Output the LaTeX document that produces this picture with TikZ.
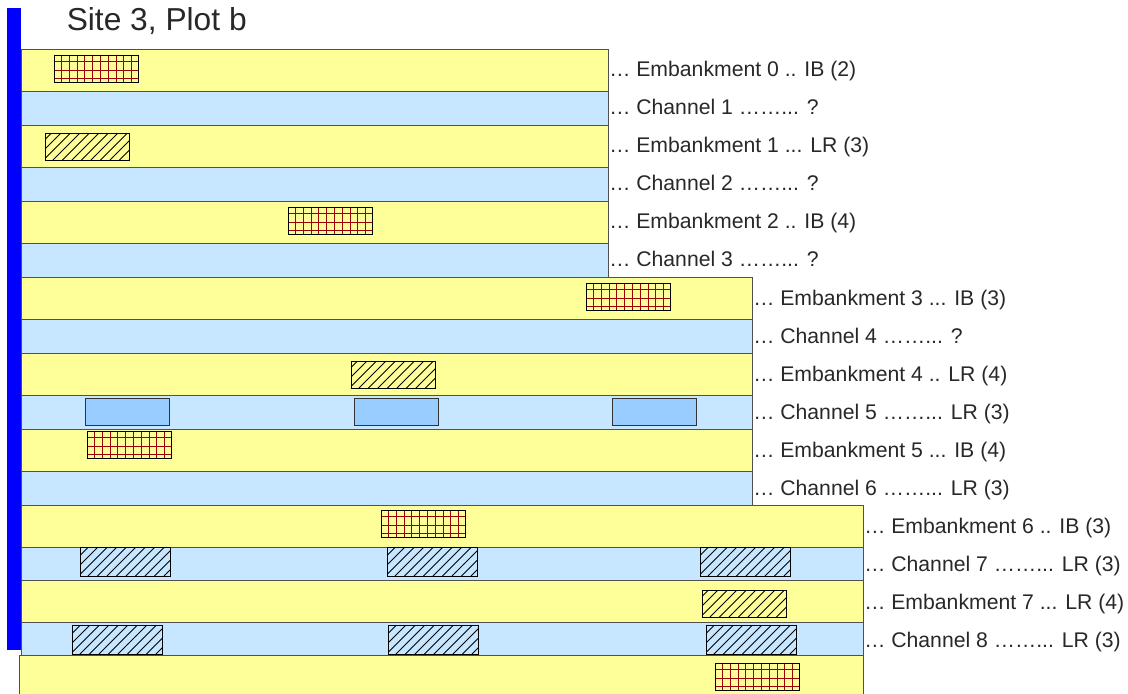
\documentclass[tikz,border=0pt]{standalone}
\usepackage{fontspec}
\setmainfont{Liberation Sans}

\definecolor{bankyellow}{RGB}{255,255,153}
\definecolor{chanblue}{RGB}{198,231,255}
\definecolor{poolblue}{RGB}{153,204,255}
\definecolor{gridred}{RGB}{160,0,0}
\definecolor{edgegray}{RGB}{80,80,80}
\definecolor{labgray}{RGB}{40,40,40}

\tikzset{
  pics/gridbox/.style={code={
    \fill[bankyellow] (0,0) rectangle (84,27);
    \foreach \gx in {7.5,15.3,...,80} \draw[gridred,line width=0.75pt] (\gx,0) -- (\gx,27);
    \foreach \gy in {6.7,15,23.3} \draw[gridred,line width=0.75pt] (0,\gy) -- (84,\gy);
    \draw[black,line width=0.75pt] (0,0) rectangle (84,27);
  }},
  pics/hatchbox/.style n args={3}{code={
    \fill[#3] (0,0) rectangle (#1,#2);
    \begin{scope}
      \clip (0,0) rectangle (#1,#2);
      \foreach \hx in {-30,-20.5,...,96} \draw[line width=0.6pt] (\hx,#2) -- ++(#2,-#2);
    \end{scope}
    \draw[line width=0.75pt] (0,0) rectangle (#1,#2);
  }}
}

\begin{document}
\begin{tikzpicture}[x=0.75pt,y=-0.75pt,
  bank/.style={fill=bankyellow,draw=edgegray,line width=0.75pt},
  chan/.style={fill=chanblue,draw=edgegray,line width=0.75pt},
  pool/.style={fill=poolblue,draw=black!80,line width=0.75pt},
  lab/.style={anchor=base west,inner sep=0pt,text=labgray,font=\fontsize{15.9}{18}\selectfont}]
  \useasboundingbox (0,0) rectangle (1128,693);

  % strips, top to bottom
  \foreach \top/\bot/\rgt/\kind in {49/91/608/bank,91/125/608/chan,125/167/608/bank,167/201/608/chan,
      201/243/608/bank,243/277/608/chan,277/319/752/bank,319/353/752/chan,353/395/752/bank,
      395/429/752/chan,429/471/752/bank,471/505/752/chan,505/547/863/bank,547/580/863/chan,
      580/622/863/bank,622/655/863/chan}
    \draw[\kind] (21,\top) rectangle (\rgt,\bot);
  \draw[bank] (19.5,655) rectangle (863,695);

  % boxes in the strips
  \pic at (54,55) {gridbox};
  \pic at (45,133) {hatchbox={84}{27}{bankyellow}};
  \pic at (288,207) {gridbox};
  \pic at (586,283) {gridbox};
  \pic at (351,361) {hatchbox={84}{27}{bankyellow}};
  \draw[pool] (85,398) rectangle ++(84,27);
  \draw[pool] (354,398) rectangle ++(84,27);
  \draw[pool] (612,398) rectangle ++(84,27);
  \pic at (87,431) {gridbox};
  \pic at (381,510) {gridbox};
  \pic at (80,547) {hatchbox={90}{29}{chanblue}};
  \pic at (387,547) {hatchbox={90}{29}{chanblue}};
  \pic at (700,547) {hatchbox={90}{29}{chanblue}};
  \pic at (702,590) {hatchbox={84}{27}{bankyellow}};
  \pic at (72,625) {hatchbox={90}{29}{chanblue}};
  \pic at (388,625) {hatchbox={90}{29}{chanblue}};
  \pic at (706,625) {hatchbox={90}{29}{chanblue}};
  \pic at (715,663) {gridbox};

  % blue bar
  \fill[blue] (7,8) rectangle (21,650);

  \node[anchor=base west,inner sep=0pt,text=labgray,font=\fontsize{23.8}{28}\selectfont] (title) at (66.5,30) {Site 3, Plot b};

  % labels
  \node[lab] (e0) at (609,76) {… Embankment 0 .. IB (2)};
  \node[lab] (c1) at (609,114) {… Channel 1 ……... ?};
  \node[lab] (e1) at (609,152) {… Embankment 1 ... LR (3)};
  \node[lab] (c2) at (609,190) {… Channel 2 ……... ?};
  \node[lab] (e2) at (609,228) {… Embankment 2 .. IB (4)};
  \node[lab] (c3) at (609,266) {… Channel 3 ……... ?};
  \node[lab] (e3) at (753,305) {… Embankment 3 ... IB (3)};
  \node[lab] (c4) at (753,343) {… Channel 4 ……... ?};
  \node[lab] (e4) at (753,381) {… Embankment 4 .. LR (4)};
  \node[lab] (c5) at (753,419) {… Channel 5 ……... LR (3)};
  \node[lab] (e5) at (753,457) {… Embankment 5 ... IB (4)};
  \node[lab] (c6) at (753,495) {… Channel 6 ……... LR (3)};
  \node[lab] (e6) at (864,533) {… Embankment 6 .. IB (3)};
  \node[lab] (c7) at (864,571) {… Channel 7 ……... LR (3)};
  \node[lab] (e7) at (864,609) {… Embankment 7 ... LR (4)};
  \node[lab] (c8) at (864,647) {… Channel 8 ……... LR (3)};
\end{tikzpicture}
\end{document}
